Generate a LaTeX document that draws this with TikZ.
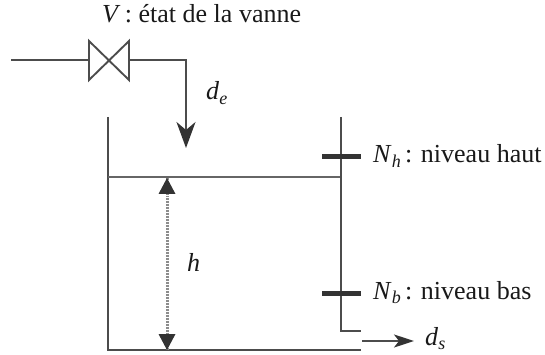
\documentclass[tikz,border=0pt]{standalone}
\usepackage{fontspec}
\setmainfont{Liberation Serif}
\usetikzlibrary{arrows.meta}
\newcommand{\subtxt}[1]{\raisebox{-4.5pt}{\fontsize{18}{18}\selectfont\textit{#1}}}
\begin{document}
\begin{tikzpicture}[x=1pt,y=-1pt,
  wall/.style={draw=black!70,line width=1.9pt},
  thin wall/.style={draw=black!60,line width=1.5pt},
  sensor/.style={draw=black!80,line width=5pt},
  lab/.style={inner sep=0pt,font=\fontsize{26}{28}\selectfont,text=black!90},
  bighead/.style={-{Stealth[length=26pt,width=19pt,inset=8pt,color=black!80,fill=black!80]}},
  smallhead/.style={-{Stealth[length=20pt,width=13pt,inset=5pt,color=black!80,fill=black!80]}}]
\useasboundingbox (0,0) rectangle (545,355);
\coordinate (inlet) at (11,60);
\coordinate (vl) at (89,60);
\coordinate (vr) at (129,60);
\coordinate (corner) at (186,60);
\coordinate (drop) at (186,148);
\coordinate (tl) at (108,117);
\coordinate (bl) at (108,350);
\coordinate (br) at (361,350);
\coordinate (wl) at (108,177);
\coordinate (wr) at (341,177);
\coordinate (tr) at (341,117);
\coordinate (oc) at (341,331);
\coordinate (oe) at (361,331);
\coordinate (as) at (362,341);
\coordinate (ae) at (414,341);
\coordinate (hs1) at (322,157);
\coordinate (hs2) at (361,157);
\coordinate (ls1) at (322,293);
\coordinate (ls2) at (361,293);
\coordinate (ht) at (167,178);
\coordinate (hb) at (167,350);
% pipe and valve
\draw[wall] (inlet) -- (vl);
\draw[wall,line join=miter] (vl) ++(0,-19) -- ++(0,39) -- ++(40,-39) -- ++(0,39) -- cycle;
\draw[wall,bighead] (vr) -- (corner) -- (drop);
% tank
\draw[wall] (tl) -- (bl) -- (br);
\draw[thin wall] (wl) -- (wr);
\draw[wall] (tr) -- (oc) -- (oe);
\draw[sensor] (hs1) -- (hs2);
\draw[sensor] (ls1) -- (ls2);
\draw[wall,smallhead] (as) -- (ae);
% height
\draw[draw=black!45,line width=3pt,dash pattern=on 1pt off 0.5pt] (ht) -- (hb);
\fill[black!80] (167,178) -- (175.5,194) -- (158.5,194) -- cycle;
\fill[black!80] (167,350) -- (175.5,334) -- (158.5,334) -- cycle;
% labels
\node[lab,anchor=base west] (vlab) at (102,23) {\textit{V}\,: état de la vanne};
\node[lab,anchor=base west] (de) at (206,100) {\textit{d}\subtxt{e}};
\node[lab,anchor=base west] (hlab) at (187,271) {\textit{h}};
\node[lab,anchor=base west] (nh) at (373,163) {\textit{N}\subtxt{h}\,: niveau haut};
\node[lab,anchor=base west] (nb) at (373,299) {\textit{N}\subtxt{b}\,: niveau bas};
\node[lab,anchor=base west] (ds) at (425,345) {\textit{d}\subtxt{s}};
\end{tikzpicture}
\end{document}
